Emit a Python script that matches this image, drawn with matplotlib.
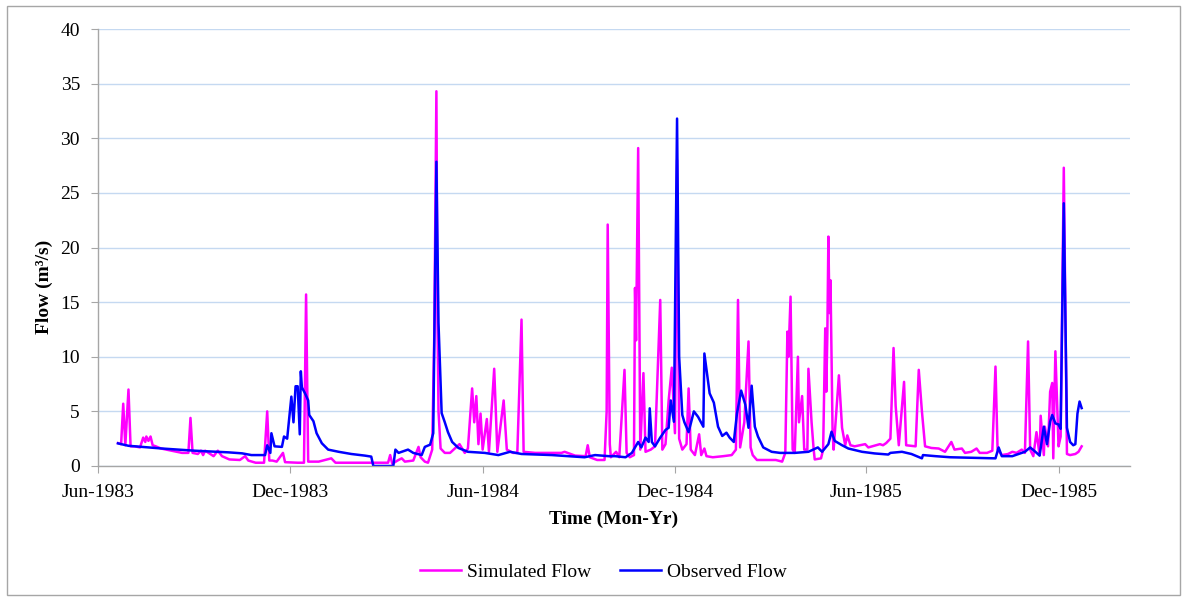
import numpy as np
import matplotlib
matplotlib.use("Agg")
import matplotlib.pyplot as plt
from matplotlib.patches import Rectangle

# ---- data (day offsets from 1 Jun 1983, flow in m3/s) ----
start_date = "1983-06-01"

sim_day = [19, 22, 24, 26, 29, 31, 35, 40, 43, 45, 46, 48, 50, 52, 55, 60, 70, 80, 86, 88,
           90, 95, 98, 100, 102, 110, 114, 118, 125, 135, 140, 143, 150, 158, 161, 163, 166,
           170, 176, 178, 190, 196, 198, 200, 210, 222, 226, 240, 260, 276, 278, 280, 285,
           289, 292, 300, 305, 307, 311, 314, 318, 320, 322, 323, 324, 326, 330, 335, 344,
           349, 352, 356, 358, 360, 362, 364, 366, 370, 372, 377, 380, 386, 389, 395, 399,
           403, 405, 416, 441, 444, 454, 464, 466, 468, 475, 482, 484, 485, 487, 488, 493,
           496, 501, 503, 506, 510, 511, 512, 514, 516, 519, 521, 526, 530, 535, 537, 540,
           543, 546, 549, 551, 553, 556, 560, 562, 564, 568, 572, 574, 577, 579, 585, 595,
           603, 607, 609, 611, 615, 619, 621, 623, 627, 645, 651, 654, 656, 657, 659, 661,
           663, 666, 667, 670, 672, 675, 676, 679, 681, 682, 688, 690, 692, 693, 694, 695,
           696, 697, 699, 700, 705, 708, 711, 713, 716, 720, 730, 733, 744, 747, 750, 754,
           757, 759, 762, 767, 769, 778, 781, 784, 787, 793, 800, 806, 812, 815, 822, 825,
           831, 836, 839, 846, 851, 854, 856, 860, 866, 870, 874, 879, 882, 885, 887, 890,
           893, 896, 897, 900, 901, 904, 906, 908, 909, 911, 914, 916, 919, 922, 925, 930,
           933, 936]
sim_flow = [2.1, 2.0, 5.7, 1.9, 7.0, 1.8, 1.8, 1.7, 2.6, 2.2, 2.7, 2.3, 2.7, 1.9, 1.8, 1.6, 1.4, 1.2, 1.2, 4.4,
            1.2, 1.1, 1.4, 1.0, 1.4, 0.9, 1.4, 0.9, 0.6, 0.55, 0.9, 0.5, 0.3, 0.3, 5.0, 0.5, 0.5,
            0.4, 1.2, 0.35, 0.3, 0.3, 15.7, 0.4, 0.4, 0.7, 0.3, 0.3, 0.3, 0.3, 1.0, 0.2, 0.5,
            0.7, 0.4, 0.5, 1.75, 0.8, 0.4, 0.3, 1.5, 12.0, 34.3, 14.0, 5.0, 1.6, 1.2, 1.2, 2.0,
            1.2, 1.6, 7.1, 4.0, 6.4, 2.0, 4.8, 1.5, 4.3, 1.3, 8.9, 1.3, 6.0, 1.5, 1.2, 1.2,
            13.4, 1.3, 1.2, 1.2, 1.3, 0.95, 0.9, 1.9, 0.8, 0.55, 0.55, 5.0, 22.1, 2.0, 0.8, 1.3,
            0.8, 8.8, 1.2, 0.8, 1.0, 16.3, 11.5, 29.1, 1.5, 8.5, 1.3, 1.5, 1.8, 15.2, 1.5, 2.0,
            6.0, 9.0, 3.0, 28.0, 2.5, 1.5, 2.0, 7.1, 1.5, 1.0, 2.9, 1.0, 1.6, 0.9, 0.8, 0.9,
            1.0, 1.5, 15.2, 1.7, 4.0, 11.4, 1.7, 1.0, 0.55, 0.55, 0.4, 1.2, 12.3, 10.0, 15.5, 1.5,
            1.2, 10.0, 4.0, 6.4, 1.5, 1.5, 8.9, 4.0, 1.5, 0.6, 0.7, 1.5, 12.6, 6.8, 12.0, 21.0,
            14.0, 17.0, 3.0, 1.5, 8.3, 3.5, 1.9, 2.8, 1.9, 1.8, 2.0, 1.7, 2.0, 1.9, 2.1, 2.5,
            10.8, 5.5, 1.9, 7.7, 1.9, 1.8, 8.8, 5.0, 1.8, 1.65, 1.6, 1.3, 2.2, 1.5, 1.6, 1.2,
            1.3, 1.6, 1.2, 1.2, 1.4, 9.1, 1.5, 1.0, 1.1, 1.3, 1.2, 1.5, 1.2, 11.4, 1.5, 0.9,
            3.1, 1.0, 4.6, 1.0, 3.6, 1.8, 6.8, 7.6, 0.7, 10.5, 1.8, 2.7, 27.3, 1.1, 1.0, 1.1,
            1.3, 1.8]

obs_day = [19, 29, 61, 92, 124, 137, 146, 159, 161, 164, 165, 168, 175, 177, 180, 184, 186,
           188, 190, 192, 193, 194, 197, 200, 201, 205, 208, 213, 219, 229, 241, 254, 260,
           262, 281, 283, 286, 295, 300, 308, 311, 316, 319, 322, 324, 327, 330, 333, 337,
           343, 352, 368, 381, 392, 403, 432, 448, 463, 473, 486, 492, 502, 508, 514, 517,
           521, 524, 525, 527, 530, 535, 540, 543, 545, 548, 551, 553, 556, 558, 562, 567,
           571, 576, 577, 582, 586, 590, 594, 598, 601, 605, 608, 612, 616, 619, 622, 625,
           628, 633, 641, 649, 663, 676, 685, 689, 695, 698, 701, 708, 714, 727, 739, 752,
           754, 765, 774, 784, 785, 797, 811, 854, 857, 860, 870, 882, 887, 892, 896, 900,
           903, 906, 908, 911, 914, 916, 919, 922, 925, 928, 930, 932, 934, 936]
obs_flow = [2.07, 1.85, 1.6, 1.4, 1.25, 1.16, 1.0, 1.0, 1.9, 1.2, 3.0, 1.8, 1.75, 2.7, 2.5, 6.35, 4.0,
            7.3, 7.3, 2.9, 8.67, 7.2, 6.65, 6.0, 4.67, 4.1, 3.0, 2.08, 1.5, 1.3, 1.1, 0.95, 0.86,
            0.0, 0.0, 1.5, 1.2, 1.5, 1.2, 1.0, 1.75, 1.95, 3.0, 27.85, 13.1, 4.84, 4.0, 3.1, 2.2,
            1.65, 1.3, 1.2, 1.0, 1.3, 1.1, 1.0, 0.9, 0.8, 1.0, 0.9, 0.9, 0.8, 1.2, 2.2, 1.7,
            2.6, 2.2, 5.28, 2.2, 1.8, 2.6, 3.3, 3.5, 6.0, 4.05, 31.8, 10.0, 4.67, 4.0, 3.1, 5.0,
            4.5, 3.6, 10.3, 6.65, 5.8, 3.6, 2.75, 3.05, 2.6, 2.2, 4.8, 6.9, 5.6, 3.5, 7.35, 3.6,
            2.7, 1.7, 1.3, 1.2, 1.2, 1.3, 1.7, 1.3, 2.0, 3.14, 2.3, 1.9, 1.6, 1.3, 1.15, 1.05,
            1.2, 1.3, 1.1, 0.7, 1.0, 0.9, 0.8, 0.7, 1.7, 0.9, 0.9, 1.3, 1.7, 1.3, 0.95, 3.6,
            2.0, 4.06, 4.67, 3.9, 3.8, 3.4, 24.05, 3.5, 2.2, 1.9, 2.0, 4.8, 5.9, 5.3]

x_tick_labels = ["Jun-1983", "Dec-1983", "Jun-1984", "Dec-1984", "Jun-1985", "Dec-1985"]
x_tick_dates = ["1983-06-01", "1983-12-01", "1984-06-01", "1984-12-01", "1985-06-01", "1985-12-01"]
y_ticks = [0, 5, 10, 15, 20, 25, 30, 35, 40]


def to_dt(arr):
    return np.asarray(arr).astype("datetime64[ms]").astype(object)


# ---- build dates ----
t0 = np.datetime64(start_date, "D")
sim_dates = to_dt(t0 + np.array(sim_day).astype("timedelta64[D]"))
obs_dates = to_dt(t0 + np.array(obs_day).astype("timedelta64[D]"))
tick_dates = to_dt(np.array(x_tick_dates, dtype="datetime64[D]"))

plt.rcParams["font.family"] = ["Liberation Serif", "DejaVu Serif"]
FS = 14

fig = plt.figure(figsize=(11.87, 5.99), dpi=100)
ax = fig.add_axes([98 / 1187, 1 - 466 / 599, (1130 - 98) / 1187, (466 - 29) / 599])

ax.plot(sim_dates, sim_flow, color="#FF00FF", lw=1.8, label="Simulated Flow")
ax.plot(obs_dates, obs_flow, color="#0000FF", lw=1.8, label="Observed Flow")

ax.set_xlim(to_dt(t0), to_dt(t0 + np.timedelta64(982, "D")))
ax.set_ylim(0, 40)
ax.set_yticks(y_ticks)
ax.set_xticks(tick_dates)
ax.set_xticklabels(x_tick_labels)

ax.grid(axis="y", color="#C5D9F1", lw=1.0)
ax.set_axisbelow(True)
for s in ["top", "right"]:
    ax.spines[s].set_visible(False)
for s in ["left", "bottom"]:
    ax.spines[s].set_color("#A6A6A6")
    ax.spines[s].set_linewidth(1.0)
ax.tick_params(axis="both", colors="#A6A6A6", direction="out", length=5, labelsize=FS,
               labelcolor="black")
ax.tick_params(axis="x", pad=8)
ax.tick_params(axis="y", pad=8)

ax.set_xlabel("Time (Mon-Yr)", fontsize=FS, fontweight="bold", labelpad=7)
ax.set_ylabel("Flow (m³/s)", fontsize=FS, fontweight="bold")
ax.yaxis.set_label_coords(-45 / 1032, (466 - 287) / 437)

fig.legend(loc="center", bbox_to_anchor=(0.5 + 10 / 1187, 1 - 572 / 599), ncol=2, frameon=False,
           fontsize=FS, handlelength=2.1, handletextpad=0.3, columnspacing=1.5)

fig.patches.append(Rectangle((7 / 1187, 4 / 599), 1 - 14 / 1187, 1 - 10 / 599,
                             transform=fig.transFigure, fill=False, edgecolor="#A6A6A6", lw=1.0))

fig.savefig("out.png", dpi=100)
